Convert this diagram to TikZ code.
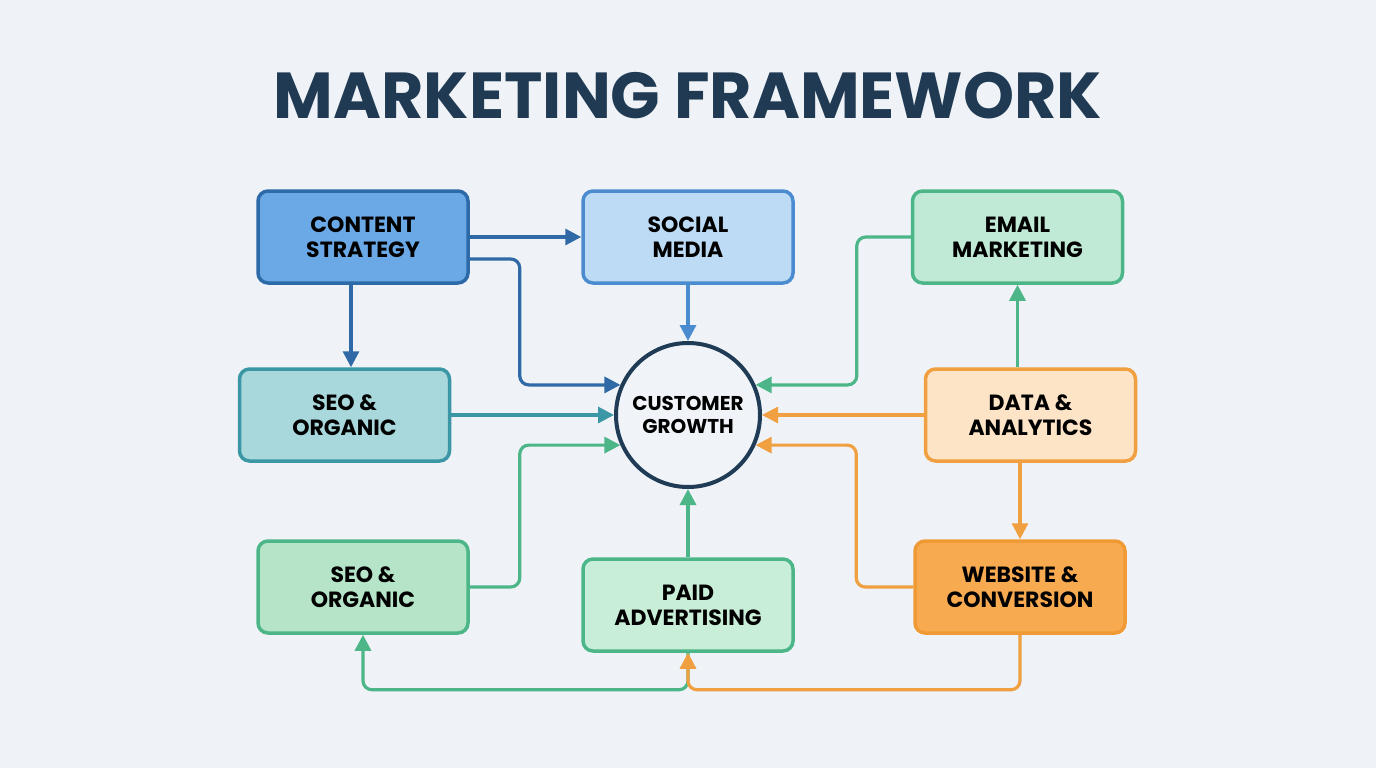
\documentclass[tikz,border=0pt]{standalone}
\usepackage{fontspec}
\setmainfont{Poppins}
\usetikzlibrary{arrows.meta}
\definecolor{bg}{HTML}{EFF3F8}
\definecolor{titlec}{HTML}{1F3A52}
\definecolor{dblue}{HTML}{2F6AA6}
\definecolor{cfill}{HTML}{6AA9E6}
\definecolor{cdraw}{HTML}{2C6AA8}
\definecolor{sfill}{HTML}{BDDBF5}
\definecolor{sdraw}{HTML}{4A8CCF}
\definecolor{tfill}{HTML}{A8D8DC}
\definecolor{tdraw}{HTML}{3B97A5}
\definecolor{gdraw}{HTML}{4DB688}
\definecolor{efill}{HTML}{C0EAD5}
\definecolor{gfill}{HTML}{B5E4C9}
\definecolor{pfill}{HTML}{C9EED8}
\definecolor{odraw}{HTML}{F0A040}
\definecolor{dfill}{HTML}{FDE4C6}
\definecolor{wfill}{HTML}{F8AA50}
\definecolor{wdraw}{HTML}{F09A35}
\definecolor{circd}{HTML}{1F3B55}
\definecolor{circf}{HTML}{F0F4F8}
\tikzset{
  card/.style={rounded corners=10pt, line width=3.5pt, minimum width=210pt, minimum height=92pt,
    align=center, font=\fontsize{22}{25}\selectfont\bfseries, text=black},
  conn/.style={line width=3.2pt, rounded corners=9pt, -{Triangle[length=16pt,width=16pt]}},
}
\begin{document}
\begin{tikzpicture}[x=1pt,y=-1pt]
\fill[bg] (0,0) rectangle (1376,768);
\useasboundingbox (0,0) rectangle (1376,768);
\node[font=\fontsize{65}{72}\selectfont\bfseries, text=titlec] (title) at (688,96) {MARKETING FRAMEWORK};

\node[card, fill=cfill, draw=cdraw] (content) at (363,237) {CONTENT\\STRATEGY};
\node[card, fill=sfill, draw=sdraw] (social) at (688,237) {SOCIAL\\MEDIA};
\node[card, fill=efill, draw=gdraw] (email) at (1017.5,237) {EMAIL\\MARKETING};
\node[card, fill=tfill, draw=tdraw] (seoA) at (344.5,415) {SEO \&\\ORGANIC};
\node[card, fill=dfill, draw=odraw] (data) at (1030.5,415) {DATA \&\\ANALYTICS};
\node[card, fill=gfill, draw=gdraw] (seoB) at (363,587) {SEO \&\\ORGANIC};
\node[card, fill=pfill, draw=gdraw] (paid) at (688,605) {PAID\\ADVERTISING};
\node[card, fill=wfill, draw=wdraw] (web) at (1020,587) {WEBSITE \&\\CONVERSION};
\node[circle, minimum size=144pt, line width=4pt, draw=circd, fill=circf, align=center,
  font=\fontsize{20}{23}\selectfont\bfseries, text=black] (cust) at (688,415) {CUSTOMER\\GROWTH};

% blue
\draw[conn, dblue] (content.east) -- (social.west);
\draw[conn, dblue] ([yshift=-22pt]content.east) -- ++(50,0) |- (cust.156);
\draw[conn, dblue] ([xshift=-12pt]content.south) -- ([xshift=-12pt]content.south |- seoA.north);
\draw[conn, sdraw] (social.south) -- (cust.north);
% teal
\draw[conn, tdraw] (seoA.east) -- (cust.west);
% green
\draw[conn, gdraw] (seoB.east) -- ++(50,0) |- (cust.204);
\draw[conn, gdraw] (paid.north) -- (cust.south);
\draw[conn, gdraw] (email.west) -- ++(-54,0) |- (cust.24);
\draw[conn, gdraw] (data.north -| email.south) -- (email.south);
\draw[conn, gdraw] (paid.south) -- ++(0,37) -| (seoB.south);
% orange
\draw[conn, odraw] (data.west) -- (cust.east);
\draw[conn, odraw] (data.south -| web.north) -- (web.north);
\draw[conn, odraw] (web.west) -- ++(-57,0) |- (cust.-24);
\draw[conn, odraw] (web.south) -- ++(0,55) -| (paid.south);
\end{tikzpicture}
\end{document}
